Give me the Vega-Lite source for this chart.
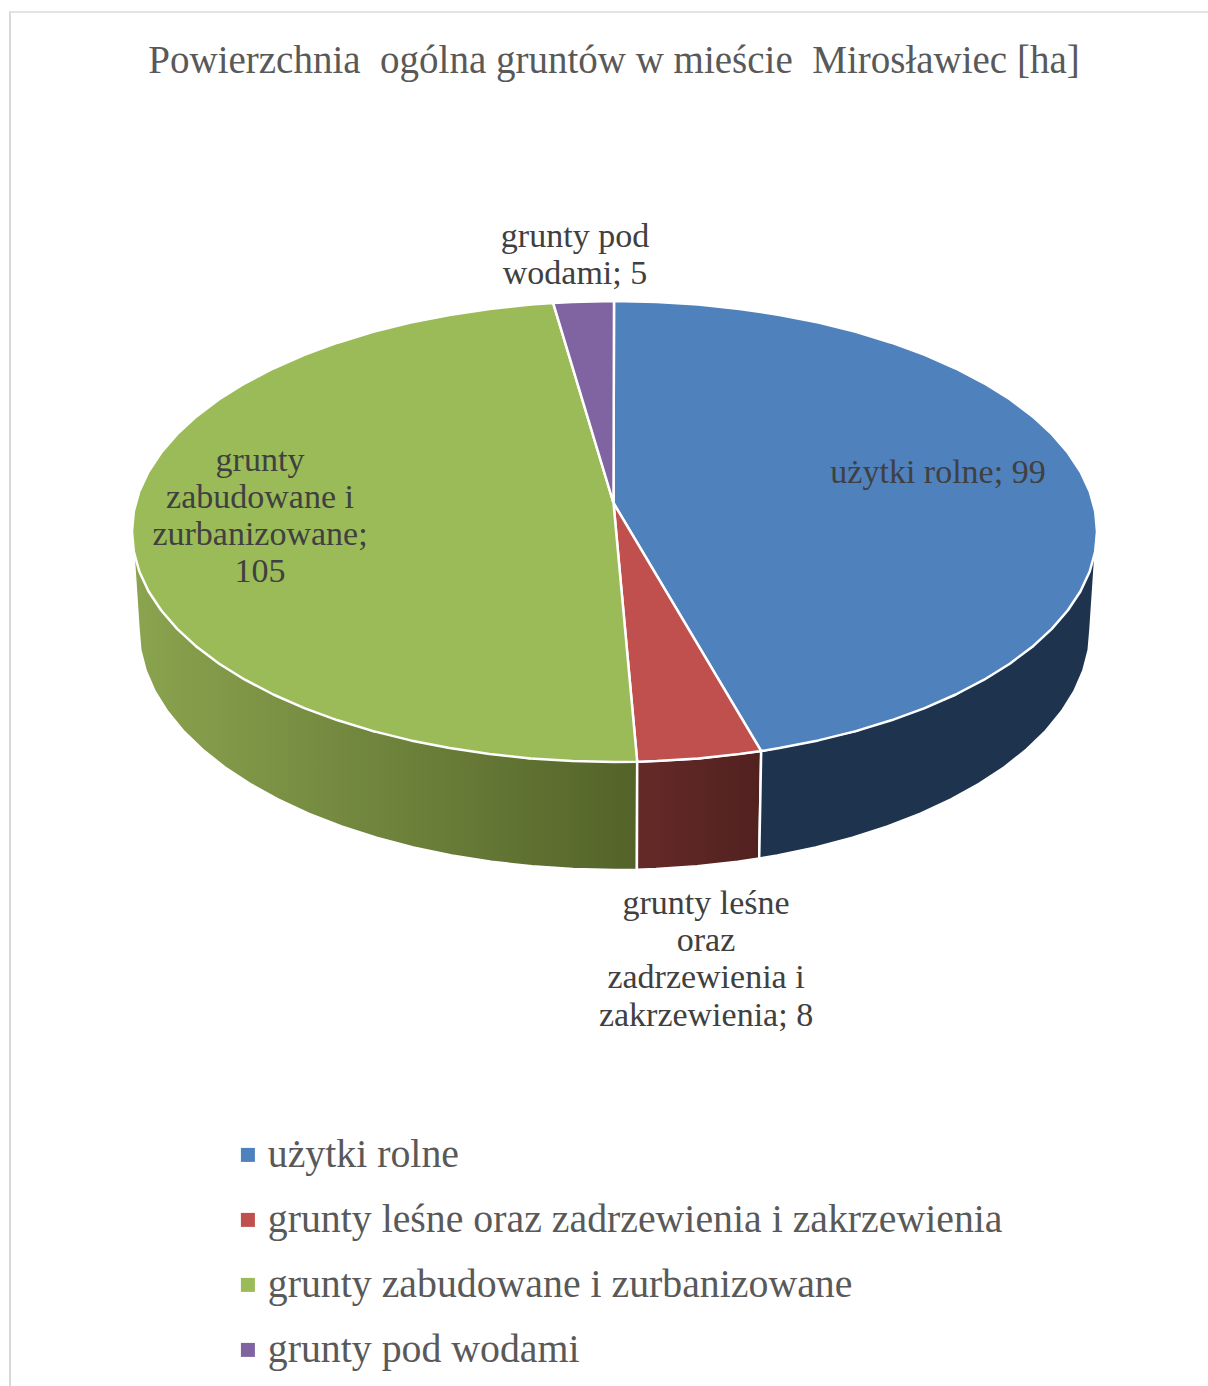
{"$schema":"https://vega.github.io/schema/vega-lite/v6.json","width":1208,"height":1386,"padding":0,"autosize":"none","background":"white","config":{"view":{"stroke":null}},
"title":{"text":"Powierzchnia \u00a0ogólna gruntów w mieście \u00a0Mirosławiec [ha]","font":"Liberation Serif","fontSize":39,"fontWeight":"normal","color":"#595959","anchor":"middle","frame":"group","orient":"top","offset":-81,"dx":10},
"datasets":{
"slices":[
{"category":"użytki rolne","value":99,"label":"użytki rolne; 99"},
{"category":"grunty leśne oraz zadrzewienia i zakrzewienia","value":8,"label":["grunty leśne","oraz","zadrzewienia i","zakrzewienia; 8"]},
{"category":"grunty zabudowane i zurbanizowane","value":105,"label":["grunty","zabudowane i","zurbanizowane;","105"]},
{"category":"grunty pod wodami","value":5,"label":["grunty pod","wodami; 5"]}],
"walls":[
{"c":"b","i":0,"x":1097,"y":531.5},{"c":"b","i":1,"x":1090.5,"y":629},{"c":"b","i":2,"x":1088.7,"y":650},{"c":"b","i":3,"x":1083.3,"y":670.8},{"c":"b","i":4,"x":1074.3,"y":691.4},{"c":"b","i":5,"x":1061.8,"y":711.4},{"c":"b","i":6,"x":1045.9,"y":730.8},{"c":"b","i":7,"x":1026.7,"y":749.5},{"c":"b","i":8,"x":1004.4,"y":767.2},{"c":"b","i":9,"x":979.1,"y":783.9},{"c":"b","i":10,"x":951.1,"y":799.4},{"c":"b","i":11,"x":920.5,"y":813.6},{"c":"b","i":12,"x":887.5,"y":826.4},{"c":"b","i":13,"x":852.5,"y":837.7},{"c":"b","i":14,"x":815.7,"y":847.4},{"c":"b","i":15,"x":777.3,"y":855.5},{"c":"b","i":16,"x":759.2,"y":858.6},{"c":"b","i":17,"x":761.2,"y":751.1},{"c":"b","i":18,"x":855.8,"y":731.1},{"c":"b","i":19,"x":955.7,"y":694.5},{"c":"b","i":20,"x":1032.3,"y":646.8},{"c":"b","i":21,"x":1080.5,"y":591.2},
{"c":"r","i":0,"x":761.2,"y":751.1},{"c":"r","i":1,"x":759.2,"y":858.6},{"c":"r","i":2,"x":737.7,"y":861.8},{"c":"r","i":3,"x":697.1,"y":866.3},{"c":"r","i":4,"x":656,"y":869.1},{"c":"r","i":5,"x":636.9,"y":869.7},{"c":"r","i":6,"x":637.2,"y":761.7},{"c":"r","i":7,"x":698.3,"y":758.5},{"c":"r","i":8,"x":761.2,"y":751.1},
{"c":"g","i":0,"x":637.2,"y":761.7},{"c":"g","i":1,"x":636.9,"y":869.7},{"c":"g","i":2,"x":614.5,"y":870},{"c":"g","i":3,"x":573,"y":869.1},{"c":"g","i":4,"x":531.9,"y":866.3},{"c":"g","i":5,"x":491.3,"y":861.8},{"c":"g","i":6,"x":451.7,"y":855.5},{"c":"g","i":7,"x":413.3,"y":847.4},{"c":"g","i":8,"x":376.5,"y":837.7},{"c":"g","i":9,"x":341.5,"y":826.4},{"c":"g","i":10,"x":308.5,"y":813.6},{"c":"g","i":11,"x":277.9,"y":799.4},{"c":"g","i":12,"x":249.9,"y":783.9},{"c":"g","i":13,"x":224.6,"y":767.2},{"c":"g","i":14,"x":202.3,"y":749.5},{"c":"g","i":15,"x":183.1,"y":730.8},{"c":"g","i":16,"x":167.2,"y":711.4},{"c":"g","i":17,"x":154.7,"y":691.4},{"c":"g","i":18,"x":145.7,"y":670.8},{"c":"g","i":19,"x":140.3,"y":650},{"c":"g","i":20,"x":138.5,"y":629},{"c":"g","i":21,"x":132,"y":531.5},{"c":"g","i":22,"x":196.7,"y":646.8},{"c":"g","i":23,"x":373.2,"y":731.1},{"c":"g","i":24,"x":530.7,"y":758.5}],
"tops":[
{"category":"użytki rolne","i":0,"x":613.5,"y":503},{"category":"użytki rolne","i":1,"x":614,"y":301},{"category":"użytki rolne","i":2,"x":656.6,"y":301.9},{"category":"użytki rolne","i":3,"x":698.3,"y":304.5},{"category":"użytki rolne","i":4,"x":739.4,"y":308.9},{"category":"użytki rolne","i":5,"x":779.5,"y":314.9},{"category":"użytki rolne","i":6,"x":818.4,"y":322.6},{"category":"użytki rolne","i":7,"x":855.8,"y":331.9},{"category":"użytki rolne","i":8,"x":891.3,"y":342.7},{"category":"użytki rolne","i":9,"x":924.7,"y":354.9},{"category":"użytki rolne","i":10,"x":955.7,"y":368.5},{"category":"użytki rolne","i":11,"x":984.1,"y":383.3},{"category":"użytki rolne","i":12,"x":1009.8,"y":399.3},{"category":"użytki rolne","i":13,"x":1032.3,"y":416.2},{"category":"użytki rolne","i":14,"x":1051.8,"y":434.1},{"category":"użytki rolne","i":15,"x":1067.9,"y":452.7},{"category":"użytki rolne","i":16,"x":1080.5,"y":471.8},{"category":"użytki rolne","i":17,"x":1089.7,"y":491.5},{"category":"użytki rolne","i":18,"x":1095.2,"y":511.4},{"category":"użytki rolne","i":19,"x":1097,"y":531.5},{"category":"użytki rolne","i":20,"x":1095.2,"y":551.6},{"category":"użytki rolne","i":21,"x":1089.7,"y":571.5},{"category":"użytki rolne","i":22,"x":1080.5,"y":591.2},{"category":"użytki rolne","i":23,"x":1067.9,"y":610.3},{"category":"użytki rolne","i":24,"x":1051.8,"y":628.9},{"category":"użytki rolne","i":25,"x":1032.3,"y":646.8},{"category":"użytki rolne","i":26,"x":1009.8,"y":663.7},{"category":"użytki rolne","i":27,"x":984.1,"y":679.7},{"category":"użytki rolne","i":28,"x":955.7,"y":694.5},{"category":"użytki rolne","i":29,"x":924.7,"y":708.1},{"category":"użytki rolne","i":30,"x":891.3,"y":720.3},{"category":"użytki rolne","i":31,"x":855.8,"y":731.1},{"category":"użytki rolne","i":32,"x":818.4,"y":740.4},{"category":"użytki rolne","i":33,"x":779.5,"y":748.1},{"category":"użytki rolne","i":34,"x":761.2,"y":751.1},{"category":"użytki rolne","i":35,"x":613.5,"y":503},
{"category":"grunty leśne oraz zadrzewienia i zakrzewienia","i":0,"x":613.5,"y":503},{"category":"grunty leśne oraz zadrzewienia i zakrzewienia","i":1,"x":761.2,"y":751.1},{"category":"grunty leśne oraz zadrzewienia i zakrzewienia","i":2,"x":739.4,"y":754.1},{"category":"grunty leśne oraz zadrzewienia i zakrzewienia","i":3,"x":698.3,"y":758.5},{"category":"grunty leśne oraz zadrzewienia i zakrzewienia","i":4,"x":656.6,"y":761.1},{"category":"grunty leśne oraz zadrzewienia i zakrzewienia","i":5,"x":637.2,"y":761.7},{"category":"grunty leśne oraz zadrzewienia i zakrzewienia","i":6,"x":613.5,"y":503},
{"category":"grunty zabudowane i zurbanizowane","i":0,"x":613.5,"y":503},{"category":"grunty zabudowane i zurbanizowane","i":1,"x":637.2,"y":761.7},{"category":"grunty zabudowane i zurbanizowane","i":2,"x":614.5,"y":762},{"category":"grunty zabudowane i zurbanizowane","i":3,"x":572.4,"y":761.1},{"category":"grunty zabudowane i zurbanizowane","i":4,"x":530.7,"y":758.5},{"category":"grunty zabudowane i zurbanizowane","i":5,"x":489.6,"y":754.1},{"category":"grunty zabudowane i zurbanizowane","i":6,"x":449.5,"y":748.1},{"category":"grunty zabudowane i zurbanizowane","i":7,"x":410.6,"y":740.4},{"category":"grunty zabudowane i zurbanizowane","i":8,"x":373.2,"y":731.1},{"category":"grunty zabudowane i zurbanizowane","i":9,"x":337.7,"y":720.3},{"category":"grunty zabudowane i zurbanizowane","i":10,"x":304.3,"y":708.1},{"category":"grunty zabudowane i zurbanizowane","i":11,"x":273.3,"y":694.5},{"category":"grunty zabudowane i zurbanizowane","i":12,"x":244.9,"y":679.7},{"category":"grunty zabudowane i zurbanizowane","i":13,"x":219.2,"y":663.7},{"category":"grunty zabudowane i zurbanizowane","i":14,"x":196.7,"y":646.8},{"category":"grunty zabudowane i zurbanizowane","i":15,"x":177.2,"y":628.9},{"category":"grunty zabudowane i zurbanizowane","i":16,"x":161.1,"y":610.3},{"category":"grunty zabudowane i zurbanizowane","i":17,"x":148.5,"y":591.2},{"category":"grunty zabudowane i zurbanizowane","i":18,"x":139.3,"y":571.5},{"category":"grunty zabudowane i zurbanizowane","i":19,"x":133.8,"y":551.6},{"category":"grunty zabudowane i zurbanizowane","i":20,"x":132,"y":531.5},{"category":"grunty zabudowane i zurbanizowane","i":21,"x":133.8,"y":511.4},{"category":"grunty zabudowane i zurbanizowane","i":22,"x":139.3,"y":491.5},{"category":"grunty zabudowane i zurbanizowane","i":23,"x":148.5,"y":471.8},{"category":"grunty zabudowane i zurbanizowane","i":24,"x":161.1,"y":452.7},{"category":"grunty zabudowane i zurbanizowane","i":25,"x":177.2,"y":434.1},{"category":"grunty zabudowane i zurbanizowane","i":26,"x":196.7,"y":416.2},{"category":"grunty zabudowane i zurbanizowane","i":27,"x":219.2,"y":399.3},{"category":"grunty zabudowane i zurbanizowane","i":28,"x":244.9,"y":383.3},{"category":"grunty zabudowane i zurbanizowane","i":29,"x":273.3,"y":368.5},{"category":"grunty zabudowane i zurbanizowane","i":30,"x":304.3,"y":354.9},{"category":"grunty zabudowane i zurbanizowane","i":31,"x":337.7,"y":342.7},{"category":"grunty zabudowane i zurbanizowane","i":32,"x":373.2,"y":331.9},{"category":"grunty zabudowane i zurbanizowane","i":33,"x":410.6,"y":322.6},{"category":"grunty zabudowane i zurbanizowane","i":34,"x":449.5,"y":314.9},{"category":"grunty zabudowane i zurbanizowane","i":35,"x":489.6,"y":308.9},{"category":"grunty zabudowane i zurbanizowane","i":36,"x":530.7,"y":304.5},{"category":"grunty zabudowane i zurbanizowane","i":37,"x":553.2,"y":303.1},{"category":"grunty zabudowane i zurbanizowane","i":38,"x":613.5,"y":503},
{"category":"grunty pod wodami","i":0,"x":613.5,"y":503},{"category":"grunty pod wodami","i":1,"x":553.2,"y":303.1},{"category":"grunty pod wodami","i":2,"x":572.4,"y":301.9},{"category":"grunty pod wodami","i":3,"x":614,"y":301},{"category":"grunty pod wodami","i":4,"x":613.5,"y":503}]},
"layer":[
{"data":{"values":[{"a":1}]},"mark":{"type":"rule","color":"#d9d9d9","strokeWidth":2},"encoding":{"x":{"datum":10,"type":"quantitative","scale":{"domain":[0,1208],"nice":false,"zero":false},"axis":null},"y":{"datum":11,"type":"quantitative","scale":{"domain":[0,1386],"reverse":true,"nice":false,"zero":false},"axis":null},"y2":{"datum":1386}}},
{"data":{"values":[{"a":1}]},"mark":{"type":"rule","color":"#e3e3e3","strokeWidth":2},"encoding":{"x":{"datum":10,"type":"quantitative"},"x2":{"datum":1208},"y":{"datum":12,"type":"quantitative"}}},
{"data":{"name":"walls"},"transform":[{"filter":"datum.c==='g'"}],"mark":{"type":"line","strokeWidth":2.5,"stroke":"white","strokeJoin":"round","fill":{"gradient":"linear","x1":0,"y1":0,"x2":1,"y2":0,"stops":[{"offset":0,"color":"#8ba44f"},{"offset":1,"color":"#536329"}]}},"encoding":{"x":{"field":"x","type":"quantitative"},"y":{"field":"y","type":"quantitative"},"order":{"field":"i"}}},
{"data":{"name":"walls"},"transform":[{"filter":"datum.c==='r'"}],"mark":{"type":"line","strokeWidth":2.5,"stroke":"white","strokeJoin":"round","fill":{"gradient":"linear","x1":0,"y1":0,"x2":1,"y2":0,"stops":[{"offset":0,"color":"#652a27"},{"offset":1,"color":"#512120"}]}},"encoding":{"x":{"field":"x","type":"quantitative"},"y":{"field":"y","type":"quantitative"},"order":{"field":"i"}}},
{"data":{"name":"walls"},"transform":[{"filter":"datum.c==='b'"}],"mark":{"type":"line","strokeWidth":2.5,"stroke":"white","strokeJoin":"round","fill":"#1e334e"},"encoding":{"x":{"field":"x","type":"quantitative"},"y":{"field":"y","type":"quantitative"},"order":{"field":"i"}}},
{"data":{"name":"tops"},"mark":{"type":"line","strokeWidth":2.5,"stroke":"white","strokeJoin":"round"},"encoding":{"x":{"field":"x","type":"quantitative"},"y":{"field":"y","type":"quantitative"},"order":{"field":"i"},"fill":{"field":"category","type":"nominal","scale":{"domain":["użytki rolne","grunty leśne oraz zadrzewienia i zakrzewienia","grunty zabudowane i zurbanizowane","grunty pod wodami"],"range":["#4f81bd","#c0504d","#9bbb59","#8064a2"]},"legend":{"title":null,"orient":"none","legendX":228,"legendY":1135,"symbolType":"square","symbolSize":196,"symbolStrokeWidth":0,"labelFont":"Liberation Serif","labelFontSize":39.8,"labelColor":"#595959","labelLimit":900,"labelOffset":0,"rowPadding":24,"symbolOpacity":1}}}},
{"data":{"name":"slices"},"transform":[{"filter":"datum.value===99"}],"mark":{"type":"text","font":"Liberation Serif","fontSize":34,"color":"#404040","align":"center","baseline":"middle","lineHeight":37},"encoding":{"x":{"datum":938,"type":"quantitative"},"y":{"datum":473,"type":"quantitative"},"text":{"field":"label"}}},
{"data":{"name":"slices"},"transform":[{"filter":"datum.value===8"}],"mark":{"type":"text","font":"Liberation Serif","fontSize":34,"color":"#404040","align":"center","baseline":"middle","lineHeight":37.2},"encoding":{"x":{"datum":706,"type":"quantitative"},"y":{"datum":904,"type":"quantitative"},"text":{"field":"label"}}},
{"data":{"name":"slices"},"transform":[{"filter":"datum.value===105"}],"mark":{"type":"text","font":"Liberation Serif","fontSize":34,"color":"#404040","align":"center","baseline":"middle","lineHeight":37},"encoding":{"x":{"datum":260,"type":"quantitative"},"y":{"datum":461,"type":"quantitative"},"text":{"field":"label"}}},
{"data":{"name":"slices"},"transform":[{"filter":"datum.value===5"}],"mark":{"type":"text","font":"Liberation Serif","fontSize":34,"color":"#404040","align":"center","baseline":"middle","lineHeight":37},"encoding":{"x":{"datum":575,"type":"quantitative"},"y":{"datum":237,"type":"quantitative"},"text":{"field":"label"}}}
]}
